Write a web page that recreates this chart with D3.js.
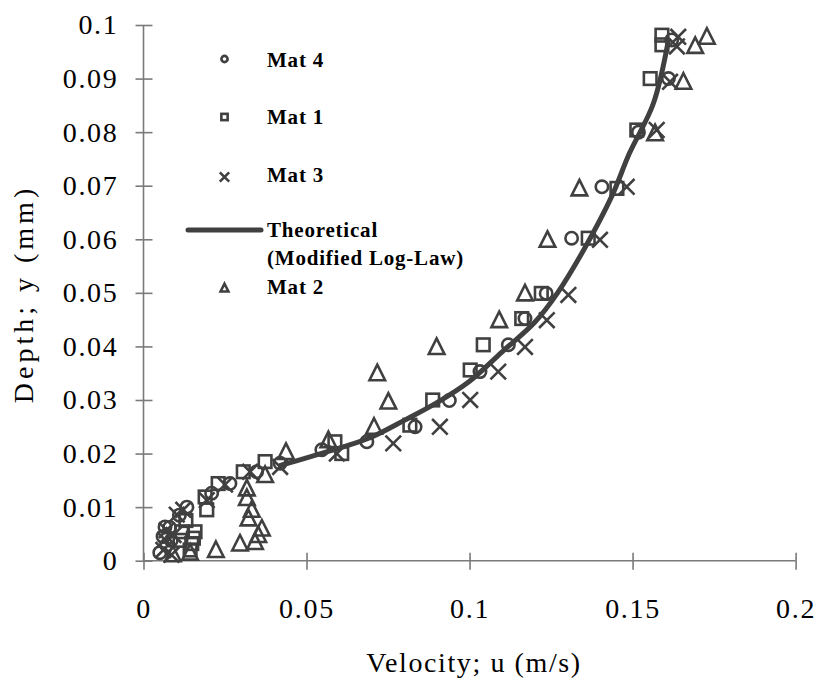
<!DOCTYPE html>
<html>
<head>
<meta charset="utf-8">
<script src="https://cdn.jsdelivr.net/npm/d3@7"></script>
<style>
  html, body { margin: 0; padding: 0; background: #fff; }
  svg { display: block; }
  text { font-family: "Liberation Serif", "Times New Roman", serif; fill: #000; }
</style>
</head>
<body>
<svg id="chart" width="819" height="682"></svg>
<script>
// ---- data (u in m/s, y in mm as labelled) ----
const xTicks = [0, 0.05, 0.1, 0.15, 0.2];
const yTicks = [0, 0.01, 0.02, 0.03, 0.04, 0.05, 0.06, 0.07, 0.08, 0.09, 0.1];
const xTickLabels = ["0", "0.05", "0.1", "0.15", "0.2"];
const yTickLabels = ["0", "0.01", "0.02", "0.03", "0.04", "0.05", "0.06", "0.07", "0.08", "0.09", "0.1"];

const mat4 = [[0.162,0.0972],[0.161,0.090],[0.1518,0.080],[0.1406,0.0698],[0.1313,0.0602],[0.1235,0.0499],[0.117,0.0452],[0.1119,0.0403],[0.1032,0.0353],[0.0938,0.0299],[0.0833,0.0250],[0.0685,0.0222],[0.0547,0.0207],[0.0419,0.0182],[0.0347,0.0166],[0.0265,0.0144],[0.0209,0.0126],[0.0133,0.0100],[0.011,0.0085],[0.008,0.0062],[0.0066,0.0063],[0.006,0.0045],[0.0085,0.0038],[0.0071,0.0029],[0.005,0.0015]];
const mat1 = [[0.159,0.0981],[0.159,0.0963],[0.1554,0.0900],[0.1513,0.0804],[0.1452,0.0695],[0.1364,0.0602],[0.122,0.0499],[0.116,0.0452],[0.1042,0.0403],[0.1002,0.0356],[0.0887,0.0300],[0.0817,0.0253],[0.0587,0.0222],[0.0608,0.0200],[0.0373,0.0185],[0.0306,0.0166],[0.0229,0.0144],[0.0189,0.0119],[0.0194,0.0095],[0.013,0.0075],[0.0158,0.0054],[0.0117,0.0054],[0.0153,0.0042],[0.0112,0.0038],[0.0148,0.0032],[0.0143,0.0020]];
const mat3 = [[0.164,0.0978],[0.1636,0.096],[0.1615,0.0894],[0.1574,0.0804],[0.1482,0.0698],[0.140,0.0599],[0.1303,0.0496],[0.1237,0.0449],[0.117,0.0399],[0.1088,0.0353],[0.1002,0.0300],[0.0909,0.0250],[0.0766,0.0219],[0.0593,0.0200],[0.0419,0.0175],[0.0327,0.0166],[0.025,0.0142],[0.0194,0.0113],[0.0122,0.0095],[0.0102,0.0086],[0.0071,0.0057],[0.0092,0.0048],[0.0066,0.0039],[0.0061,0.0020],[0.0086,0.0011]];
const mat2 = [[0.1728,0.0978],[0.1692,0.0961],[0.1656,0.0894],[0.1569,0.0798],[0.1337,0.0695],[0.1239,0.0599],[0.1170,0.0499],[0.1091,0.0449],[0.0899,0.0399],[0.0717,0.0350],[0.0751,0.0297],[0.0707,0.0250],[0.0567,0.0225],[0.0437,0.0203],[0.0373,0.0160],[0.0317,0.0135],[0.0317,0.0117],[0.0332,0.0095],[0.0322,0.0079],[0.0363,0.0060],[0.0352,0.0048],[0.0342,0.0035],[0.0296,0.0032],[0.0222,0.0020],[0.0143,0.0015],[0.009,0.0012]];
const theoretical = [[0.042,0.0178],[0.050,0.0192],[0.060,0.0210],[0.070,0.0231],[0.080,0.0262],[0.090,0.0295],[0.100,0.0335],[0.110,0.0390],[0.120,0.0445],[0.127,0.0500],[0.135,0.0580],[0.1436,0.0680],[0.149,0.0760],[0.1564,0.0854],[0.161,0.0972]];

const legendItems = [
  {label: ["Mat 4"], type: "circle"},
  {label: ["Mat 1"], type: "square"},
  {label: ["Mat 3"], type: "cross"},
  {label: ["Theoretical", "(Modified Log-Law)"], type: "line"},
  {label: ["Mat 2"], type: "triangle"}
];

// ---- layout ----
const svg = d3.select("#chart");
const x = d3.scaleLinear().domain([0, 0.2]).range([143.5, 795.6]);
const y = d3.scaleLinear().domain([0, 0.1]).range([560.7, 25]);
const ink = "#404040";
const axisColor = "#7a7a7a";

// axes
const gx = svg.append("g").attr("transform", `translate(0,${y(0)})`)
  .call(d3.axisBottom(x).tickValues(xTicks).tickFormat((d,i)=>xTickLabels[i]).tickSize(8).tickPadding(29));
const gy = svg.append("g").attr("transform", `translate(${x(0)},0)`)
  .call(d3.axisLeft(y).tickValues(yTicks).tickFormat((d,i)=>yTickLabels[i]).tickSize(8).tickPadding(17));
[gx, gy].forEach(g => {
  g.select(".domain").attr("stroke", axisColor).attr("stroke-width", 1.6);
  g.selectAll(".tick line").attr("stroke", axisColor).attr("stroke-width", 1.6);
  g.selectAll(".tick text").style("font-family", "'Liberation Serif', serif").style("font-size", "28px")
    .attr("letter-spacing", 1.7).attr("fill", "#000");
});
gx.selectAll(".tick line").attr("y1", -8).attr("y2", 9);
gy.selectAll(".tick line").attr("x1", -8).attr("x2", 9);
gx.select(".domain").attr("d", `M${x(0)},0H${x(0.2)}`);
gy.select(".domain").attr("d", `M0,${y(0)}V${y(0.1)}`);

// axis titles
svg.append("text").attr("x", 474).attr("y", 672).attr("text-anchor", "middle")
  .style("font-size", "28px").attr("letter-spacing", 1.6).text("Velocity; u (m/s)");
svg.append("text").attr("transform", "translate(33,294) rotate(-90)").attr("text-anchor", "middle")
  .style("font-size", "28px").attr("letter-spacing", 4).text("Depth; y (mm)");

// marker drawing
function drawMarker(g, type, cx, cy, s) {
  if (type === "circle") {
    g.append("circle").attr("cx", cx).attr("cy", cy).attr("r", 6.2*s)
      .attr("fill", "none").attr("stroke", ink).attr("stroke-width", 2.6);
  } else if (type === "square") {
    const h = 6.3*s;
    g.append("rect").attr("x", cx-h).attr("y", cy-h).attr("width", 2*h).attr("height", 2*h)
      .attr("fill", "none").attr("stroke", ink).attr("stroke-width", 2.6);
  } else if (type === "cross") {
    const h = 7.8*s;
    g.append("path").attr("d", `M${cx-h},${cy-h}L${cx+h},${cy+h}M${cx-h},${cy+h}L${cx+h},${cy-h}`)
      .attr("fill", "none").attr("stroke", ink).attr("stroke-width", 2.6);
  } else if (type === "triangle") {
    const w = 7.8*s, ht = 15.5*s;
    g.append("path").attr("d", `M${cx},${cy-ht*0.55}L${cx+w},${cy+ht*0.45}L${cx-w},${cy+ht*0.45}Z`)
      .attr("fill", "none").attr("stroke", ink).attr("stroke-width", 2.6).attr("stroke-linejoin", "miter");
  }
}

const plot = svg.append("g");
const series = [
  {data: mat2, type: "triangle"},
  {data: mat1, type: "square"},
  {data: mat4, type: "circle"},
  {data: mat3, type: "cross"}
];
series.forEach(sr => {
  const g = plot.append("g");
  sr.data.forEach(d => drawMarker(g, sr.type, x(d[0]), y(d[1]), 1));
});

// theoretical curve
plot.append("path").datum(theoretical)
  .attr("d", d3.line().x(d => x(d[0])).y(d => y(d[1])).curve(d3.curveCatmullRom.alpha(0.5)))
  .attr("fill", "none").attr("stroke", ink).attr("stroke-width", 5).attr("stroke-linecap", "round");

// legend
const lg = svg.append("g");
const legendY = [59, 117, 177, 230, 288];
const legendBase = [67, 124, 182, 237, 294];
legendItems.forEach((it, i) => {
  if (it.type === "line") {
    lg.append("line").attr("x1", 188).attr("x2", 261).attr("y1", legendY[i]).attr("y2", legendY[i])
      .attr("stroke", ink).attr("stroke-width", 5).attr("stroke-linecap", "round");
  } else {
    const s = it.type === "cross" ? 0.6 : 0.5;
    drawMarker(lg, it.type, 224.5, legendY[i], s);
  }
  it.label.forEach((t, j) => {
    lg.append("text").attr("x", 267).attr("y", legendBase[i] + j*28)
      .style("font-size", "21px").attr("font-weight", "bold").attr("letter-spacing", 0.8).text(t);
  });
});
</script>
</body>
</html>
